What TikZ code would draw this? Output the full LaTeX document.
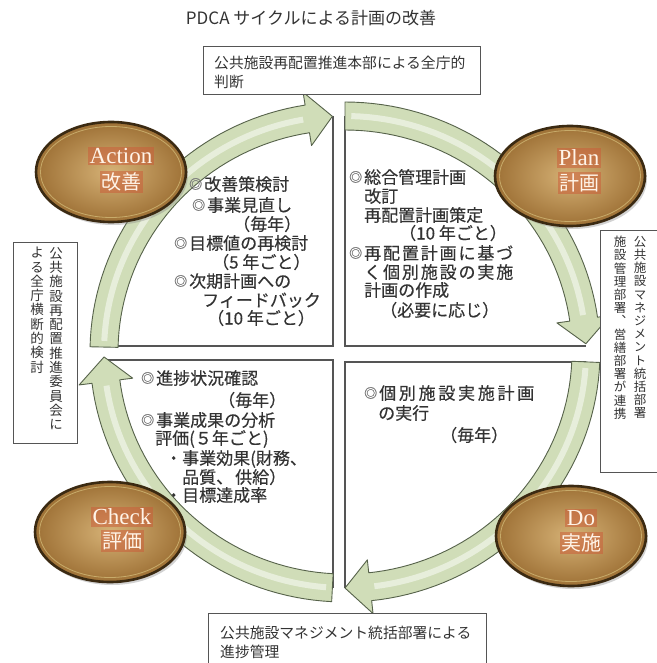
\documentclass[tikz,border=0pt]{standalone}
\usepackage{fontspec}
\setmainfont{Noto Sans CJK JP}
\newfontfamily\jp{Noto Sans CJK JP}
\newfontfamily\jpb[FakeBold=0.35]{Noto Sans CJK JP}
\newfontfamily\jpv[RawFeature=+vert]{Noto Sans CJK JP}
\newfontfamily\jpw[LetterSpace=11,FakeBold=0.35]{Noto Sans CJK JP}
\newfontfamily\jpww[LetterSpace=16,FakeBold=0.35]{Noto Sans CJK JP}
\newfontfamily\serf{Liberation Serif}
\usetikzlibrary{shapes.geometric,shadows}
\definecolor{arrfill}{HTML}{D0DDB8}
\definecolor{arrline}{HTML}{56624A}
\definecolor{txt}{HTML}{333333}
\definecolor{bulc}{HTML}{7A7A7A}
\definecolor{elin}{HTML}{D6B276}
\definecolor{elout}{HTML}{9E7136}
\definecolor{eldraw}{HTML}{3B2A12}
\definecolor{elrim}{HTML}{D8C27E}
\definecolor{glow}{HTML}{CC5A38}
\definecolor{eltxt}{HTML}{FFF4E8}
\definecolor{qline}{HTML}{555555}
\newcommand{\bul}{\raisebox{1.6pt}{\color{bulc}\fontsize{13}{13}\selectfont ◎}\hspace{2pt}}
\def\RCX{345}\def\RCY{352}
\def\ROX{255}\def\ROY{250}
\def\RIX{227}\def\RIY{222}
\def\RMX{241}\def\RMY{236}
\def\HOX{268}\def\HOY{263}
\def\HIX{214}\def\HIY{209}
\newcommand{\ringarrow}[2]{%
  \pgfmathsetmacro{\hb}{#2-6}%
  \pgfmathsetmacro{\ts}{#1+1.5}%
  \pgfmathsetmacro{\te}{#2-7}%
  \filldraw[fill=arrfill, draw=arrline, line width=0.9pt, line join=round]
    plot[variable=\t, domain=#1:\hb, samples=40] ({\RCX+\ROX*cos(\t)},{\RCY+\ROY*sin(\t)})
    -- ({\RCX+\HOX*cos(\hb)},{\RCY+\HOY*sin(\hb)})
    -- ({\RCX+\RMX*cos(#2)},{\RCY+\RMY*sin(#2)})
    -- ({\RCX+\HIX*cos(\hb)},{\RCY+\HIY*sin(\hb)})
    -- plot[variable=\t, domain=\hb:#1, samples=40] ({\RCX+\RIX*cos(\t)},{\RCY+\RIY*sin(\t)})
    -- cycle;
  \draw[white, opacity=0.5, line width=6pt]
    plot[variable=\t, domain=\ts:\te, samples=40] ({\RCX+\RMX*cos(\t)},{\RCY+\RMY*sin(\t)});
}
\tikzset{
  pdca/.style={ellipse, minimum width=150pt, minimum height=100pt, inner sep=0pt,
    draw=eldraw, line width=2.6pt, inner color=elin, outer color=elout,
    drop shadow={shadow xshift=2pt, shadow yshift=-3pt, opacity=0.35}},
  rim/.style={ellipse, minimum width=141pt, minimum height=91pt, inner sep=0pt,
    draw=elrim, line width=0.8pt, draw opacity=0.7},
  eng/.style={font=\serf\fontsize{23}{23}\selectfont, text=eltxt, fill=glow,
    fill opacity=0.5, text opacity=1, inner sep=1.5pt},
  kan/.style={font=\jp\fontsize{20}{20}\selectfont, text=eltxt, fill=glow,
    fill opacity=0.5, text opacity=1, inner sep=1.5pt},
  qt/.style={font=\jpb\fontsize{17}{19}\selectfont, text=txt, anchor=west,
    inner sep=0pt, text height=15pt, text depth=2pt},
  bt/.style={font=\jp\fontsize{14.8}{19}\selectfont, text=txt, anchor=west,
    inner sep=0pt, text height=13pt, text depth=2pt},
  vtl/.style={font=\jpv\fontsize{13.5}{14.3}\selectfont, text=txt, anchor=north,
    align=center, inner sep=0pt},
  vtr/.style={font=\jpv\fontsize{12.5}{13.2}\selectfont, text=txt, anchor=north,
    align=center, inner sep=0pt},
  bx/.style={draw=qline, fill=white, line width=1pt},
  ql/.style={draw=qline, line width=1.2pt}
}
\begin{document}
\begin{tikzpicture}[x=1pt,y=-1pt]
\useasboundingbox (0,0) rectangle (656,663);
\fill[white] (0,0) rectangle (656,663);

% quadrant box edges
\draw[ql] (333,116) -- (333,346) -- (104,346);
\draw[ql] (345,116) -- (345,346) -- (586,346);
\draw[ql] (104,360) -- (333,360) -- (333,588);
\draw[ql] (345,588) -- (345,362) -- (586,362);

% ring arrows
\ringarrow{181.2}{267}
\ringarrow{270}{358}
\ringarrow{2.4}{90}
\ringarrow{93}{178.8}

% PDCA ellipses
\node[pdca] (act) at (111,172) {};
\node[rim] (actr) at (111,172) {};
\node[pdca] (pln) at (570,176) {};
\node[rim] (plnr) at (570,176) {};
\node[pdca] (chk) at (110,532) {};
\node[rim] (chkr) at (110,532) {};
\node[pdca] (dox) at (571,536) {};
\node[rim] (doxr) at (571,536) {};

\node[eng] (acte) at (121,156) {Action};
\node[kan] (actk) at (121,182) {改善};
\node[eng] (plne) at (579,158) {Plan};
\node[kan] (plnk) at (579,183) {計画};
\node[eng] (chke) at (122,517) {Check};
\node[kan] (chkk) at (122,541) {評価};
\node[eng] (doxe) at (581,518) {Do};
\node[kan] (doxk) at (581,543) {実施};

% top and bottom boxes
\draw[bx] (203,47) rectangle (480,95);
\node[bt] (tb1) at (214,63) {公共施設再配置推進本部による全庁的};
\node[bt] (tb2) at (214,82) {判断};
\draw[bx] (208,613) rectangle (486,680);
\node[bt] (bb1) at (220,633) {公共施設マネジメント統括部署による};
\node[bt] (bb2) at (220,652) {進捗管理};

% left vertical box
\draw[bx] (13,242) rectangle (77,443);
\node[vtl] (lv1) at (56,247) {公\\共\\施\\設\\再\\配\\置\\推\\進\\委\\員\\会\\に};
\node[vtl] (lv2) at (37,247) {よ\\る\\全\\庁\\横\\断\\的\\検\\討};

% right vertical box
\draw[bx] (600,230) rectangle (670,472);
\node[vtr] (rv1) at (640,236) {公\\共\\施\\設\\マ\\ネ\\ジ\\メ\\ン\\ト\\統\\括\\部\\署};
\node[vtr] (rv2) at (620,236) {施\\設\\管\\理\\部\\署\\、\\営\\繕\\部\\署\\が\\連\\携};

% Action quadrant text
\node[qt] (a1) at (189,184) {\bul 改善策検討};
\node[qt] (a2) at (192,205) {\bul 事業見直し};
\node[qt] (a3) at (233,224) {（毎年）};
\node[qt] (a4) at (174,243) {\bul 目標値の再検討};
\node[qt] (a5) at (212,262) {（5 年ごと）};
\node[qt] (a6) at (174,281) {\bul 次期計画への};
\node[qt] (a7) at (202,300) {フィードバック};
\node[qt] (a8) at (207,318) {（10 年ごと）};

% Plan quadrant text
\node[qt] (p1) at (349,177) {\bul 総合管理計画};
\node[qt] (p2) at (364,196) {改訂};
\node[qt] (p3) at (364,215) {再配置計画策定};
\node[qt] (p4) at (399,233) {（10 年ごと）};
\node[qt] (p5) at (349,253) {\bul{\jpw 再配置計画に基づ}};
\node[qt] (p6) at (364,272) {{\jpw く個別施設の実施}};
\node[qt] (p7) at (364,290) {計画の作成};
\node[qt] (p8) at (380,310) {（必要に応じ）};

% Check quadrant text
\node[qt] (c1) at (141,378) {\bul 進捗状況確認};
\node[qt] (c2) at (218,400) {（毎年）};
\node[qt] (c3) at (141,420) {\bul 事業成果の分析};
\node[qt] (c4) at (155,438) {評価(５年ごと)};
\node[qt] (c5) at (165,458) {・事業効果(財務、};
\node[qt] (c6) at (182,477) {品質、\hspace{2pt}供給）};
\node[qt] (c7) at (165,495) {・目標達成率};

% Do quadrant text
\node[qt] (d1) at (364,393) {\bul{\jpww 個別施設実施計画}};
\node[qt] (d2) at (378,413) {の実行};
\node[qt] (d3) at (440,435) {（毎年）};

% title
\node[font=\jp\fontsize{17}{17}\selectfont, text=txt] (title) at (311,18) {PDCA サイクルによる計画の改善};
\end{tikzpicture}
\end{document}
